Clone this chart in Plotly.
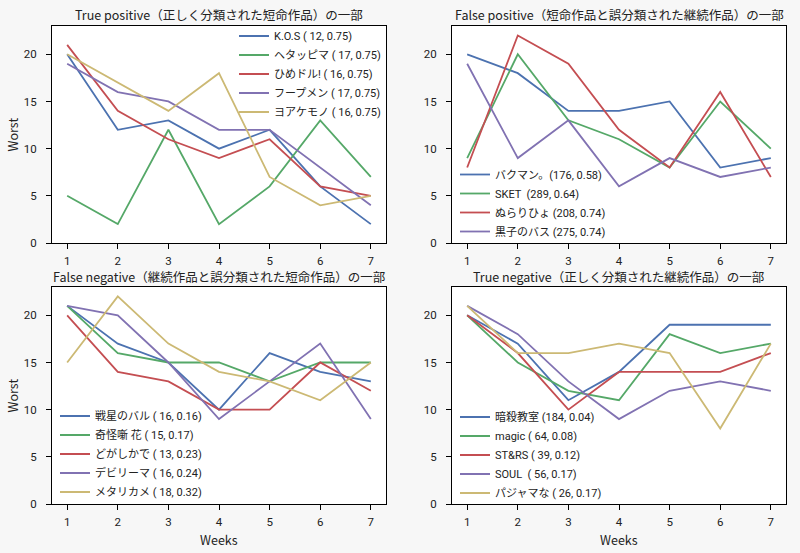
import plotly.graph_objects as go

weeks = [1, 2, 3, 4, 5, 6, 7]
colors = ["#4C72B0", "#55A868", "#C44E52", "#8172B2", "#CCB974"]

tp_title = "True positive（正しく分類された短命作品）の一部"
fp_title = "False positive（短命作品と誤分類された継続作品）の一部"
fn_title = "False negative（継続作品と誤分類された短命作品）の一部"
tn_title = "True negative（正しく分類された継続作品）の一部"

tp_names = ["K.O.S ( 12, 0.75)", "ヘタッピマ ( 17, 0.75)", "ひめドル! ( 16, 0.75)",
            "フープメン ( 17, 0.75)", "ヨアケモノ ( 16, 0.75)"]
tp_values = [
    [20, 12, 13, 10, 12, 6, 2],
    [5, 2, 12, 2, 6, 13, 7],
    [21, 14, 11, 9, 11, 6, 5],
    [19, 16, 15, 12, 12, 8, 4],
    [20, 17, 14, 18, 7, 4, 5],
]

fp_names = ["バクマン。(176, 0.58)", "SKET  (289, 0.64)", "ぬらりひょ (208, 0.74)",
            "黒子のバス (275, 0.74)"]
fp_values = [
    [20, 18, 14, 14, 15, 8, 9],
    [9, 20, 13, 11, 8, 15, 10],
    [8, 22, 19, 12, 8, 16, 7],
    [19, 9, 13, 6, 9, 7, 8],
]

fn_names = ["戦星のバル ( 16, 0.16)", "奇怪噺 花 ( 15, 0.17)", "どがしかで ( 13, 0.23)",
            "デビリーマ ( 16, 0.24)", "メタリカメ ( 18, 0.32)"]
fn_values = [
    [21, 17, 15, 10, 16, 14, 13],
    [21, 16, 15, 15, 13, 15, 15],
    [20, 14, 13, 10, 10, 15, 12],
    [21, 20, 15, 9, 13, 17, 9],
    [15, 22, 17, 14, 13, 11, 15],
]

tn_names = ["暗殺教室 (184, 0.04)", "magic ( 64, 0.08)", "ST&RS ( 39, 0.12)",
            "SOUL  ( 56, 0.17)", "パジャマな ( 26, 0.17)"]
tn_values = [
    [20, 17, 11, 14, 19, 19, 19],
    [20, 15, 12, 11, 18, 16, 17],
    [20, 16, 10, 14, 14, 14, 16],
    [21, 18, 13, 9, 12, 13, 12],
    [21, 16, 16, 17, 16, 8, 17],
]

y_ticks = [0, 5, 10, 15, 20]
x_label = "Weeks"
y_label = "Worst"

W, H = 800, 553
FONT = "Noto Sans CJK JP, Noto Sans, sans-serif"
LFONT = "Roboto, Noto Sans CJK JP, sans-serif"

def px(x):
    return x / W

def py(y):
    return 1 - y / H

panels = [
    (tp_title, tp_names, tp_values, (52, 386), (26, 243)),
    (fp_title, fp_names, fp_values, (452, 786), (26, 243)),
    (fn_title, fn_names, fn_values, (52, 386), (287, 504)),
    (tn_title, tn_names, tn_values, (452, 786), (287, 504)),
]
# legend anchor (left x, vertical centre y) in pixels
legend_pos = [(234, 74), (455, 203), (55, 454), (455, 455)]

fig = go.Figure()
layout = {}
annotations = []
for i, (title, names, values, (x0, x1), (y0, y1)) in enumerate(panels):
    k = "" if i == 0 else str(i + 1)
    leg = "legend" if i == 0 else f"legend{i + 1}"
    for j, (name, vals) in enumerate(zip(names, values)):
        fig.add_trace(go.Scatter(
            x=weeks, y=vals, mode="lines", name=name,
            line=dict(color=colors[j], width=1.8),
            xaxis="x" + k, yaxis="y" + k, legend=leg,
        ))
    common = dict(showline=True, mirror=True, linecolor="black", linewidth=1,
                  ticks="outside", ticklen=5, tickcolor="black",
                  showgrid=False, zeroline=False, automargin=False,
                  tickfont=dict(size=11.5, color="#222", family=LFONT))
    layout["xaxis" + k] = dict(domain=[px(x0), px(x1)], anchor="y" + k,
                               range=[0.7, 7.3], tickvals=weeks,
                               ticklabelstandoff=2, **common)
    layout["yaxis" + k] = dict(domain=[py(y1), py(y0)], anchor="x" + k,
                               range=[0, 23], tickvals=y_ticks,
                               ticklabelstandoff=7, **common)
    if i in (0, 2):
        annotations.append(dict(text=y_label, x=px(12), y=py((y0 + y1) / 2),
                                xref="paper", yref="paper", textangle=-90,
                                xanchor="center", yanchor="middle", showarrow=False,
                                font=dict(size=12.5, family=FONT, color="#222")))
    if i in (2, 3):
        annotations.append(dict(text=x_label, x=px((x0 + x1) / 2), y=py(539),
                                xref="paper", yref="paper",
                                xanchor="center", yanchor="middle", showarrow=False,
                                font=dict(size=12.5, family=FONT, color="#222")))
    lx, ly = legend_pos[i]
    layout[leg] = dict(x=px(lx), y=py(ly), xanchor="left", yanchor="middle",
                       bgcolor="rgba(0,0,0,0)", borderwidth=0,
                       font=dict(size=11, family=LFONT, color="#222"),
                       tracegroupgap=0)
    annotations.append(dict(text=title, x=px((x0 + x1) / 2), y=py(y0 - 11),
                            xref="paper", yref="paper", xanchor="center", yanchor="middle",
                            showarrow=False, font=dict(size=12.5, family=FONT, color="#222")))

fig.update_layout(**layout)
fig.update_layout(width=W, height=H, margin=dict(l=0, r=0, t=0, b=0, autoexpand=False),
                  paper_bgcolor="#f7f7f7", plot_bgcolor="white",
                  annotations=annotations, showlegend=True,
                  font=dict(family=FONT))
fig.write_html("out.html")
